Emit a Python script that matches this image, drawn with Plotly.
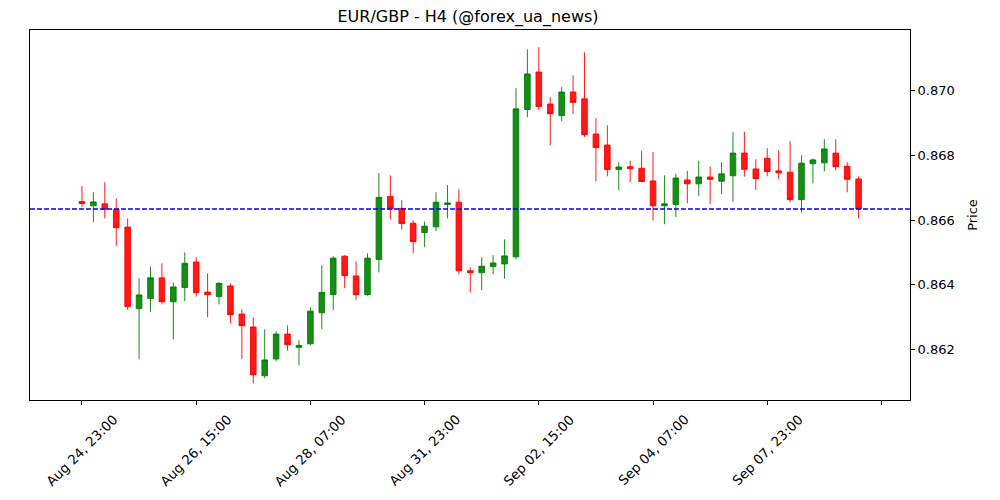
import plotly.graph_objects as go

title_text = "EUR/GBP - H4 (@forex_ua_news)"

open_ = [0.86657, 0.86644, 0.86650, 0.86633, 0.86578, 0.86326, 0.86357, 0.86421, 0.86347, 0.86391,
         0.86470, 0.86377, 0.86363, 0.86396, 0.86309, 0.86269, 0.86118, 0.86170, 0.86247, 0.86206,
         0.86217, 0.86313, 0.86369, 0.86488, 0.86427, 0.86369, 0.86478, 0.86673, 0.86636, 0.86590,
         0.86561, 0.86579, 0.86648, 0.86655, 0.86443, 0.86437, 0.86456, 0.86464, 0.86486, 0.86942,
         0.87058, 0.86959, 0.86923, 0.86996, 0.86975, 0.86866, 0.86832, 0.86756, 0.86765, 0.86760,
         0.86721, 0.86644, 0.86648, 0.86724, 0.86712, 0.86733, 0.86720, 0.86737, 0.86807, 0.86758,
         0.86791, 0.86752, 0.86748, 0.86663, 0.86774, 0.86777, 0.86807, 0.86766, 0.86727]
high = [0.86705, 0.86686, 0.86717, 0.86667, 0.86605, 0.86420, 0.86456, 0.86466, 0.86407, 0.86500,
        0.86485, 0.86435, 0.86408, 0.86404, 0.86324, 0.86299, 0.86262, 0.86256, 0.86274, 0.86228,
        0.86330, 0.86460, 0.86488, 0.86491, 0.86472, 0.86497, 0.86745, 0.86738, 0.86661, 0.86599,
        0.86595, 0.86686, 0.86708, 0.86695, 0.86454, 0.86485, 0.86491, 0.86540, 0.87008, 0.87128,
        0.87135, 0.86980, 0.87011, 0.87048, 0.87119, 0.86915, 0.86893, 0.86779, 0.86783, 0.86814,
        0.86810, 0.86738, 0.86743, 0.86752, 0.86783, 0.86766, 0.86779, 0.86873, 0.86873, 0.86788,
        0.86822, 0.86816, 0.86844, 0.86800, 0.86791, 0.86850, 0.86850, 0.86779, 0.86735]
low = [0.86641, 0.86593, 0.86605, 0.86520, 0.86322, 0.86169, 0.86316, 0.86339, 0.86231, 0.86349,
       0.86363, 0.86299, 0.86339, 0.86280, 0.86169, 0.86095, 0.86110, 0.86163, 0.86196, 0.86150,
       0.86212, 0.86262, 0.86321, 0.86389, 0.86352, 0.86366, 0.86438, 0.86602, 0.86571, 0.86497,
       0.86516, 0.86566, 0.86605, 0.86432, 0.86376, 0.86383, 0.86432, 0.86418, 0.86478, 0.86918,
       0.86940, 0.86831, 0.86906, 0.86928, 0.86857, 0.86720, 0.86735, 0.86692, 0.86717, 0.86717,
       0.86599, 0.86587, 0.86609, 0.86652, 0.86674, 0.86649, 0.86680, 0.86656, 0.86734, 0.86693,
       0.86735, 0.86727, 0.86655, 0.86624, 0.86714, 0.86751, 0.86754, 0.86686, 0.86605]
close = [0.86651, 0.86656, 0.86633, 0.86576, 0.86332, 0.86368, 0.86421, 0.86347, 0.86393, 0.86466,
         0.86375, 0.86369, 0.86404, 0.86307, 0.86273, 0.86121, 0.86167, 0.86247, 0.86214, 0.86212,
         0.86318, 0.86376, 0.86482, 0.86428, 0.86369, 0.86482, 0.86670, 0.86634, 0.86589, 0.86533,
         0.86581, 0.86655, 0.86653, 0.86443, 0.86437, 0.86457, 0.86467, 0.86489, 0.86944, 0.87052,
         0.86951, 0.86929, 0.86996, 0.86964, 0.86864, 0.86824, 0.86756, 0.86764, 0.86759, 0.86719,
         0.86644, 0.86650, 0.86730, 0.86712, 0.86733, 0.86726, 0.86743, 0.86807, 0.86757, 0.86728,
         0.86750, 0.86746, 0.86663, 0.86776, 0.86786, 0.86820, 0.86765, 0.86726, 0.86634]

tick_positions = [0, 10, 20, 30, 40, 50, 60, 70]
tick_labels = ["Aug 24, 23:00", "Aug 26, 15:00", "Aug 28, 07:00", "Aug 31, 23:00",
               "Sep 02, 15:00", "Sep 04, 07:00", "Sep 07, 23:00", ""]
price_ticks = [0.862, 0.864, 0.866, 0.868, 0.870]
reference_level = 0.86634

x = list(range(len(open_)))

UP = "rgba(0,128,0,0.9)"
DOWN = "rgba(255,0,0,0.9)"

fig = go.Figure()
fig.add_trace(go.Candlestick(
    x=x, open=open_, high=high, low=low, close=close,
    increasing=dict(line=dict(color=UP, width=1), fillcolor=UP),
    decreasing=dict(line=dict(color=DOWN, width=1), fillcolor=DOWN),
    whiskerwidth=0,
    showlegend=False,
))

fig.add_hline(y=reference_level, line=dict(color="#0000ee", width=1.5, dash="5px,2px"))

font = "DejaVu Sans"

# rotated, centred tick labels (matplotlib style)
for pos, lab in zip(tick_positions, tick_labels):
    if lab:
        fig.add_annotation(
            x=pos, xref="x", y=0, yref="paper", yshift=-9,
            text=lab, textangle=-45, showarrow=False,
            xanchor="center", yanchor="top",
            font=dict(family=font, size=13.3, color="black"),
        )

fig.update_layout(
    width=1000, height=500,
    margin=dict(l=30, r=90, t=30, b=100),
    paper_bgcolor="white", plot_bgcolor="white",
    font=dict(family=font, size=13, color="black"),
    title=dict(text=title_text, x=0.468, xanchor="center", y=0.968, yanchor="middle",
               font=dict(family=font, size=16, color="black")),
    showlegend=False,
    xaxis=dict(
        range=[-4.55, 72.5],
        tickmode="array", tickvals=tick_positions, ticktext=tick_labels,
        showticklabels=False,
        ticks="outside", ticklen=4, tickcolor="black",
        showline=True, linecolor="black", linewidth=1, mirror=True,
        showgrid=False, zeroline=False,
        rangeslider=dict(visible=False),
    ),
    yaxis=dict(
        side="right",
        range=[0.86043, 0.87188],
        tickmode="array", tickvals=price_ticks,
        ticktext=[f"{v:.3f}" for v in price_ticks],
        ticks="outside", ticklen=4, tickcolor="black",
        showline=True, linecolor="black", linewidth=1, mirror=True,
        showgrid=False, zeroline=False,
        title=dict(text="Price", font=dict(family=font, size=13), standoff=14),
        tickfont=dict(family=font, size=13),
    ),
)

fig.write_html("out.html")
